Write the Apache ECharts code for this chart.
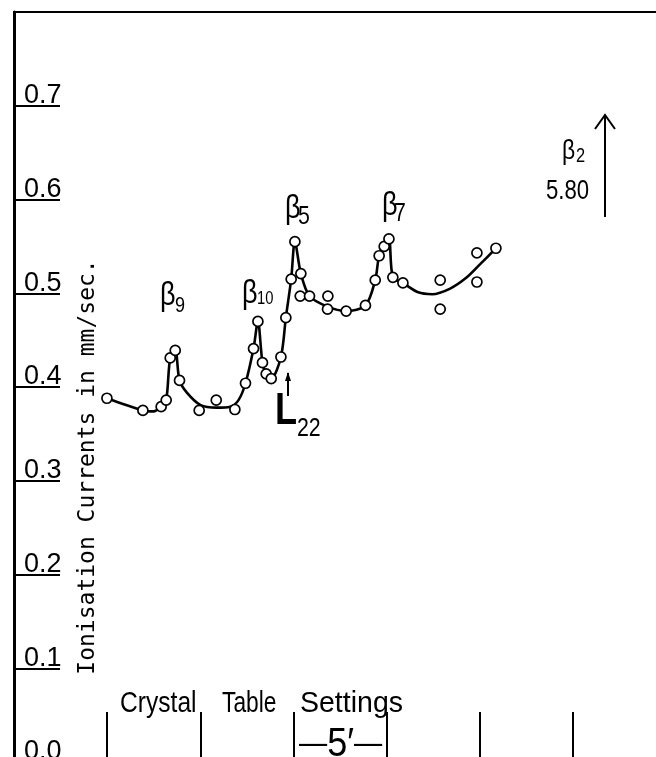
<!DOCTYPE html>
<html><head><meta charset="utf-8">
<script src="https://cdn.jsdelivr.net/npm/echarts@6/dist/echarts.min.js"></script>
<style>html,body{margin:0;padding:0;background:#fff}#c{width:656px;height:757px}</style>
</head><body><div id="c"></div>
<script>
// x in units of one table-setting step (5'), y in mm/sec
const pointX = [-0.003,0.383,0.579,0.633,0.676,0.730,0.776,0.987,1.170,1.370,1.484,1.570,1.617,1.666,1.706,1.760,1.864,1.917,1.974,2.014,2.078,2.071,2.171,2.368,2.364,2.564,2.771,2.876,2.918,2.972,3.023,3.065,3.173,3.573,3.573,3.967,3.967,4.171];
const pointY = [0.388,0.375,0.379,0.386,0.431,0.439,0.407,0.375,0.386,0.376,0.404,0.441,0.470,0.426,0.414,0.409,0.432,0.474,0.515,0.555,0.521,0.497,0.497,0.497,0.483,0.481,0.487,0.514,0.540,0.550,0.558,0.517,0.511,0.514,0.483,0.543,0.512,0.548];
const curveX = [-0.003,0.383,0.497,0.579,0.633,0.676,0.730,0.776,0.855,0.998,1.177,1.320,1.409,1.484,1.570,1.617,1.666,1.706,1.760,1.864,1.917,1.974,2.014,2.078,2.171,2.357,2.564,2.771,2.876,2.918,2.972,3.023,3.065,3.173,3.337,3.487,3.680,3.859,4.002,4.171];
const curveY = [0.388,0.375,0.374,0.379,0.386,0.431,0.439,0.407,0.394,0.381,0.378,0.379,0.386,0.404,0.441,0.470,0.426,0.414,0.409,0.432,0.474,0.515,0.555,0.521,0.497,0.486,0.481,0.487,0.514,0.540,0.550,0.558,0.517,0.511,0.501,0.499,0.505,0.517,0.531,0.548];
const yTickLabels = ['0.0','0.1','0.2','0.3','0.4','0.5','0.6','0.7'];
const yTitle = 'Ionisation Currents in mm/sec.';
const xTitleWords = ['Crystal','Table','Settings'];

const SANS = "Liberation Sans";
const MONO = "DejaVu Sans Mono";
const NARROW_SCALE = 0.82;

const chart = echarts.init(document.getElementById('c'), null, {renderer:'canvas'});
const pts = pointX.map((x,i)=>[x,pointY[i]]);
const crv = curveX.map((x,i)=>[x,curveY[i]]);

// place text by its alphabetic baseline (y), condensed horizontally
function txt(t,x,y,size,weight,sx){
  return {type:'text',silent:true,x:x,y:y-0.31*size,scaleX:sx||NARROW_SCALE,style:{text:t,fill:'#000',
    font:(weight?weight+' ':'')+size+'px '+SANS,textAlign:'left',textVerticalAlign:'middle'}};
}

chart.setOption({
  animation:false,
  backgroundColor:'#fff',
  grid:{left:14,top:12,width:661.7,height:750,outerBoundsMode:'none',containLabel:false,
    show:true,borderColor:'#000',borderWidth:2,backgroundColor:'transparent'},
  xAxis:{type:'value',min:-1,max:6.1,interval:1,
    axisLine:{show:false},
    axisTick:{show:true,inside:true,length:50,lineStyle:{color:'#000',width:2}},
    axisLabel:{show:false},splitLine:{show:false}},
  yAxis:{type:'value',min:0,max:0.8,interval:0.1,
    axisLine:{show:true,onZero:false,lineStyle:{color:'#000',width:3}},
    axisTick:{show:true,inside:true,length:46,lineStyle:{color:'#000',width:2}},
    axisLabel:{show:true,inside:true,margin:10,align:'left',verticalAlign:'bottom',lineHeight:20,
      fontFamily:SANS,fontSize:27,color:'#000',
      formatter:function(v){const i=Math.round(v*10);return i<yTickLabels.length?yTickLabels[i]:'';}},
    splitLine:{show:false}},
  series:[
    {type:'line',data:crv,smooth:0.3,symbol:'none',lineStyle:{color:'#000',width:2.6},z:2},
    {type:'scatter',data:pts,symbol:'circle',symbolSize:10,itemStyle:{color:'#fff',borderColor:'#000',borderWidth:1.7,opacity:1},z:3}
  ],
  graphic:[
    {type:'text',silent:true,x:88,y:467,rotation:Math.PI/2,style:{text:yTitle,fill:'#000',font:'23px '+MONO,textAlign:'center',textVerticalAlign:'middle'}},
    txt(xTitleWords[0],120,713,30),
    txt(xTitleWords[1],222,713,30,null,0.76),
    txt(xTitleWords[2],300,713,30,null,0.95),
    {type:'text',silent:true,x:299,y:757-0.31*40,scaleX:0.88,style:{text:'{d|—}{f|5′}{d|—}',fill:'#000',textVerticalAlign:'middle',
      rich:{d:{fontFamily:SANS,fontSize:32,fill:'#000'},f:{fontFamily:SANS,fontSize:41,fill:'#000'}}}},
    txt('β',160,306,33), txt('9',175,313,22),
    txt('β',242,304,33), txt('10',257,305,18),
    txt('β',285,219,33), txt('5',298,225,26),
    txt('β',382,216,33), txt('7',394,222,26),
    txt('β',562,160,28), txt('2',576,163,20),
    txt('5.80',546,200,27),
    txt('L',275,425,44,'bold'), txt('22',297,437,26),
    {type:'polyline',silent:true,shape:{points:[[288,396],[288,373]]},style:{stroke:'#000',lineWidth:2,fill:null}},
    {type:'polygon',silent:true,shape:{points:[[285,381],[288,372],[291,381]]},style:{fill:'#000'}},
    {type:'polyline',silent:true,shape:{points:[[605,217],[605,115]]},style:{stroke:'#000',lineWidth:2,fill:null}},
    {type:'polyline',silent:true,shape:{points:[[595,129],[605,115],[615,129]]},style:{stroke:'#000',lineWidth:2,fill:null}}
  ]
});
</script></body></html>
